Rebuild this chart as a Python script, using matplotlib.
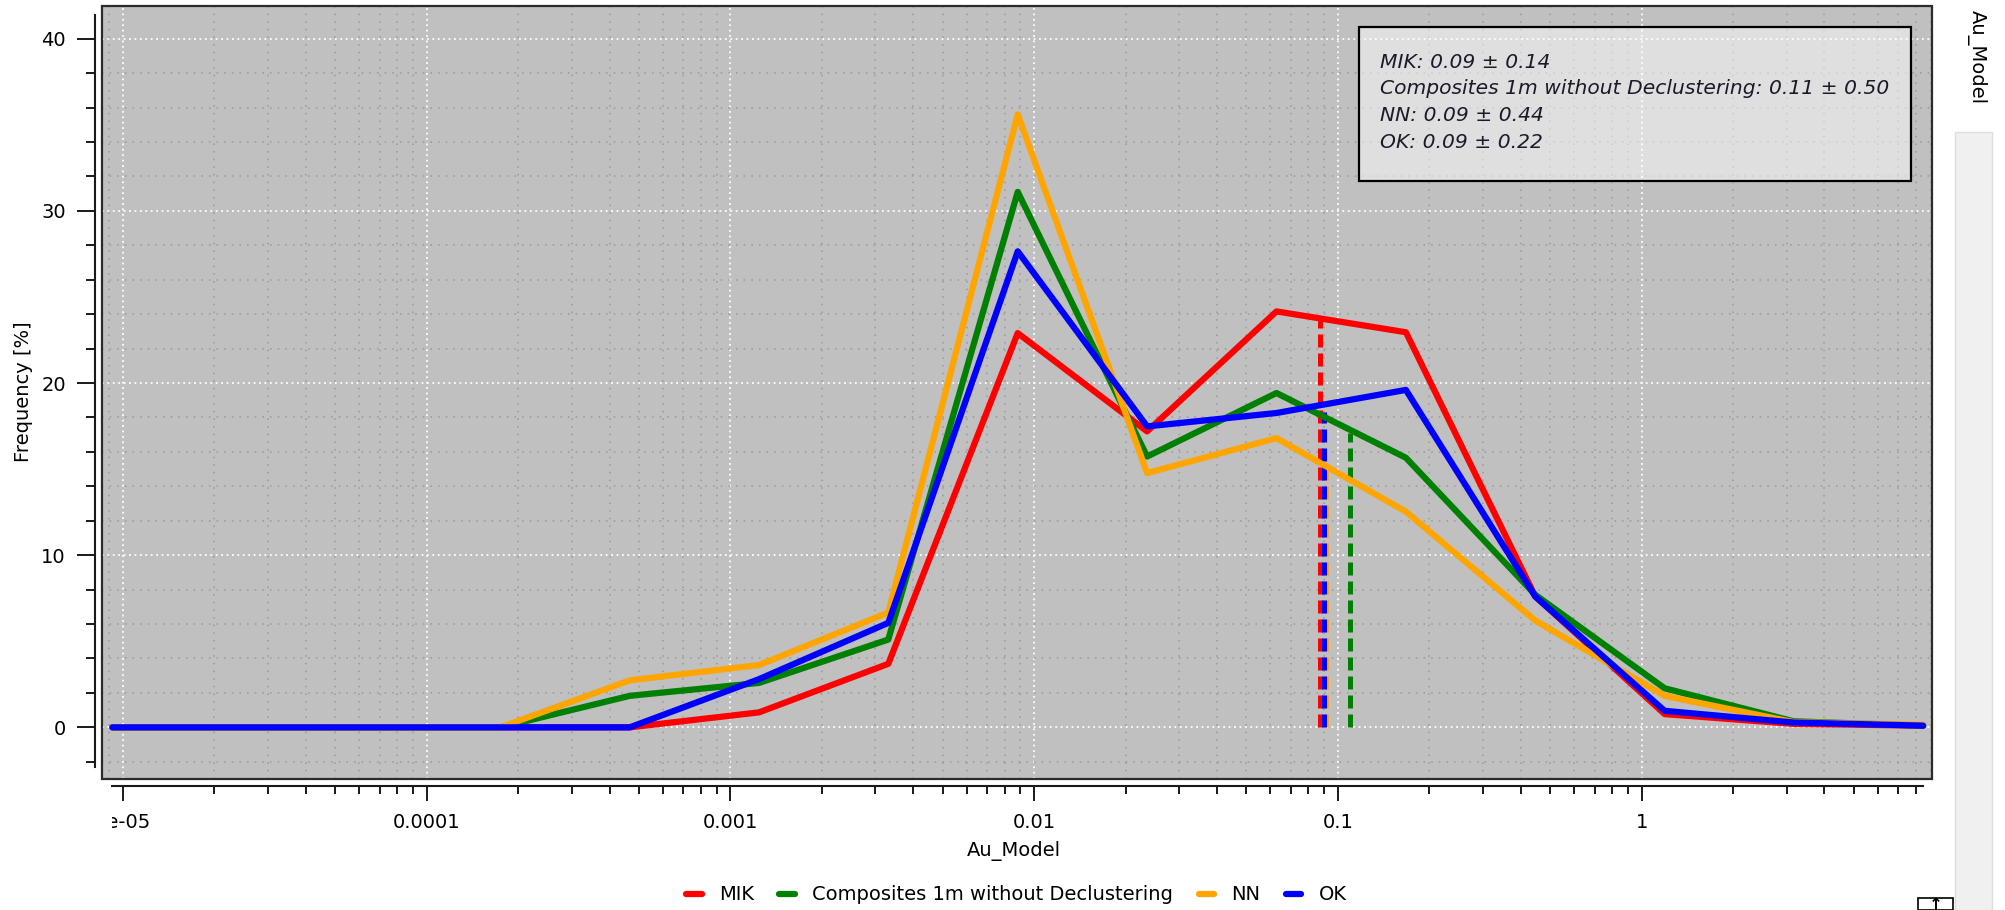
import numpy as np
import matplotlib
matplotlib.use("Agg")
import matplotlib.pyplot as plt
from matplotlib.patches import Rectangle
from matplotlib.ticker import FixedLocator, NullFormatter
from matplotlib.transforms import Bbox, TransformedBbox

plt.rcParams['font.family'] = ['DejaVu Sans']

# bin centres of Au_Model (log spaced classes)
au_bins = [9.23e-6, 2.46e-5, 6.56e-5, 1.75e-4, 4.66e-4, 1.242e-3, 3.31e-3, 8.83e-3,
           2.355e-2, 6.28e-2, 0.1675, 0.4467, 1.191, 3.17, 8.45]

series_names = ["MIK", "Composites 1m without Declustering", "NN", "OK"]
series_colors = ["#ff0000", "#008000", "#ffa500", "#0000ff"]

# frequency [%] per class
freq_mik = [0, 0, 0, 0, 0, 0.87, 3.69, 22.9, 17.19, 24.16, 22.95, 7.6, 0.77, 0.2, 0.1]
freq_comp = [0, 0, 0, 0, 1.83, 2.58, 5.1, 31.1, 15.73, 19.42, 15.66, 7.7, 2.27, 0.35, 0.1]
freq_nn = [0, 0, 0, 0, 2.73, 3.62, 6.67, 35.6, 14.77, 16.8, 12.53, 6.2, 1.83, 0.3, 0.15]
freq_ok = [0, 0, 0, 0, 0, 2.8, 6.07, 27.65, 17.48, 18.26, 19.6, 7.6, 0.96, 0.28, 0.1]
freqs = [freq_mik, freq_comp, freq_nn, freq_ok]

# mean +- std per series, and height of the mean marker line
mean_vals = [0.0873, 0.1097, 0.0915, 0.0903]
std_vals = [0.14, 0.50, 0.44, 0.22]
mean_heights = [23.9, 17.1, 15.3, 18.3]

xtick_vals = [1e-5, 1e-4, 1e-3, 1e-2, 1e-1, 1]
xtick_labels = ["1e-05", "0.0001", "0.001", "0.01", "0.1", "1"]
ytick_vals = [0, 10, 20, 30, 40]

W, H = 2006, 910
fig = plt.figure(figsize=(W / 100, H / 100), dpi=100)
ax = fig.add_axes([102 / W, 1 - 779 / H, (1932 - 102) / W, (779 - 6) / H])
ax.set_facecolor('#c0c0c0')
ax.set_xscale('log')
ax.set_xlim(8.53e-6, 9.04)
ax.set_ylim(-3.0, 41.9)

lines = []
for f, c, n in zip(freqs, series_colors, series_names):
    ln, = ax.plot(au_bins, f, color=c, lw=4.5, label=n, zorder=3,
                  solid_joinstyle='round', solid_capstyle='round')
    lines.append(ln)

for m, h, c in zip(mean_vals, mean_heights, series_colors):
    ax.plot([m, m], [0, h], color=c, lw=3.6, linestyle=(0, (2.6, 1.2)), zorder=2)

# frame + detached axis lines
ax.add_patch(Rectangle((0, 0), 1, 1, transform=ax.transAxes, fill=False,
                       ec='#2b2b2b', lw=1.6, clip_on=False, zorder=5))
for s in ['top', 'right']:
    ax.spines[s].set_visible(False)
for s in ['left', 'bottom']:
    ax.spines[s].set_position(('outward', 5))
    ax.spines[s].set_color('#1a1a1a')
    ax.spines[s].set_linewidth(1.5)
ax.spines['left'].set_bounds(-2.3, 41.4)
ax.spines['bottom'].set_bounds(au_bins[0], au_bins[-1])

ax.set_xticks(xtick_vals)
xlabels = ax.set_xticklabels(xtick_labels)
minor_x = [s * 10.0 ** e for e in range(-6, 1) for s in range(2, 10)]
minor_x = [v for v in minor_x if 8.53e-6 <= v <= 9.04]
ax.xaxis.set_minor_locator(FixedLocator(minor_x))
ax.xaxis.set_minor_formatter(NullFormatter())
ax.set_yticks(ytick_vals)
ax.yaxis.set_minor_locator(FixedLocator(np.arange(-2, 42, 2)))

ax.tick_params(axis='x', which='major', length=10.8, width=1.4, pad=9, labelsize=14, color='#1a1a1a')
ax.tick_params(axis='x', which='minor', length=5.8, width=1.4, color='#1a1a1a')
ax.tick_params(axis='y', which='major', length=13, width=1.4, pad=8, labelsize=14, color='#1a1a1a')
ax.tick_params(axis='y', which='minor', length=6.5, width=1.4, color='#1a1a1a')

# no tick marks beyond the axis line ends
for v, t in zip(minor_x, ax.xaxis.get_minor_ticks(len(minor_x))):
    if v < au_bins[0] or v > au_bins[-1]:
        t.tick1line.set_visible(False)

clip = TransformedBbox(Bbox([[111.6 / W, 0], [1, 1]]), fig.transFigure)
for lab in xlabels:
    lab.set_clip_on(True)
    lab.set_clip_box(clip)

ax.set_axisbelow(True)
ax.grid(which='minor', color='#999999', linestyle=(0, (1, 4)), lw=1.1)
ax.grid(which='major', color='white', linestyle=(0, (1, 2)), lw=1.3)

fig.text(1014 / W, 1 - 851 / H, "Au_Model", ha='center', va='center', fontsize=14)
fig.text(23.7 / W, 1 - 392 / H, "Frequency [%]", rotation=90, ha='center', va='center', fontsize=14)

# statistics box
fig.add_artist(Rectangle((1359 / W, 1 - 181 / H), (1911 - 1359) / W, (181 - 27) / H,
                         transform=fig.transFigure, fc=(1, 1, 1, 0.5), ec='black', lw=1.6))
for i, (n, m, s) in enumerate(zip(series_names, mean_vals, std_vals)):
    fig.text(1380 / W, 1 - (62 + 26.8 * i) / H, f"{n}: {m:.2f} \u00b1 {s:.2f}",
             style='italic', fontsize=14.6, va='center', color='#1a1a2a')

fig.legend(handles=lines, loc='center left', bbox_to_anchor=(686 / W, 1 - 895 / H), ncol=4,
           frameon=False, fontsize=14, handlelength=0.8, handletextpad=0.9,
           columnspacing=1.3, borderpad=0, borderaxespad=0)

# side panel of the viewer
fig.text(1977 / W, 1 - 57 / H, "Au_Model", rotation=-90, ha='center', va='center', fontsize=14)
fig.add_artist(Rectangle((1955 / W, 0), 37 / W, (910 - 132) / H, transform=fig.transFigure,
                         fc='#f0f0f0', ec='#dddddd', lw=1))
fig.add_artist(Rectangle((1918 / W, 0), 35 / W, 12 / H, transform=fig.transFigure,
                         fc='white', ec='black', lw=1.2))
fig.text(1935.5 / W, -4 / H, "\u2191", ha='center', va='bottom', fontsize=12, fontweight='bold')

fig.savefig("out.png", dpi=100)
